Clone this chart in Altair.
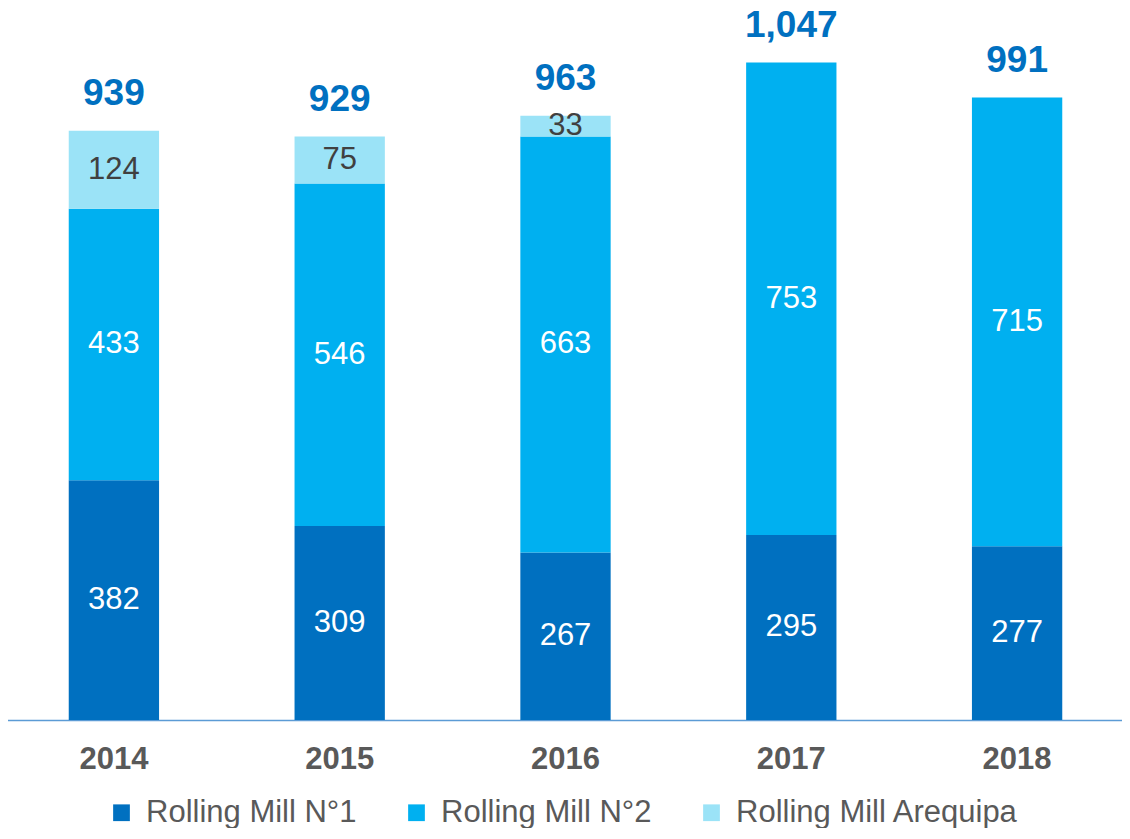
import altair as alt
import pandas as pd

years = ["2014", "2015", "2016", "2017", "2018"]
series = ["Rolling Mill N°1", "Rolling Mill N°2", "Rolling Mill Arequipa"]
mill1 = [382, 309, 267, 295, 277]
mill2 = [433, 546, 663, 753, 715]
arequipa = [124, 75, 33, 0, 0]
totals = [939, 929, 963, 1047, 991]
total_labels = ["939", "929", "963", "1,047", "991"]
colors = ["#0070C0", "#00B0F0", "#9BE3F7"]

rows = []
for i, y in enumerate(years):
    for k, (name, vals) in enumerate(zip(series, [mill1, mill2, arequipa])):
        rows.append({"year": y, "series": name, "value": vals[i], "order": k})
df = pd.DataFrame(rows)
tot = pd.DataFrame({"year": years, "total": totals, "label": total_labels})

FONT = "Liberation Sans"
xscale = alt.Scale(paddingInner=0.6, paddingOuter=0.3, range=[-7, 1122])
x = alt.X("year:N", sort=years, title=None, scale=xscale,
          axis=alt.Axis(labelAngle=0, labelFontSize=31, labelFontWeight="bold",
                        labelColor="#595959", labelFont=FONT, ticks=False,
                        domainColor="#5B9BD5", domainWidth=1.5, labelPadding=24,
                        labelBaseline="top"))
yscale = alt.Scale(domain=[0, 1122], nice=False, zero=True)

base = alt.Chart(df)
bars = base.mark_bar().encode(
    x=x,
    y=alt.Y("value:Q", stack="zero", scale=yscale, axis=None, title=None),
    color=alt.Color("series:N", sort=series,
                    scale=alt.Scale(domain=series, range=colors),
                    legend=alt.Legend(title=None, orient="none", direction="horizontal",
                                      legendX=98, legendY=781, symbolType="square",
                                      symbolSize=280, symbolStrokeWidth=0,
                                      labelFontSize=31, labelColor="#595959",
                                      labelFont=FONT, labelOffset=9, columnPadding=44,
                                      padding=0, labelLimit=400)),
    order=alt.Order("order:Q", sort="ascending"),
)

seg_labels = base.transform_stack(
    stack="value", groupby=["year"], as_=["y0", "y1"],
    sort=[alt.SortField("order", order="ascending")]
).transform_filter(alt.datum.value > 0).transform_calculate(
    mid="(datum.y0 + datum.y1) / 2"
).mark_text(fontSize=31, font=FONT, baseline="middle").encode(
    x=alt.X("year:N", sort=years, scale=xscale),
    y=alt.Y("mid:Q", scale=yscale),
    text=alt.Text("value:Q"),
    color=alt.condition(alt.datum.series == "Rolling Mill Arequipa",
                        alt.value("#404040"), alt.value("white")),
)

tot_labels = alt.Chart(tot).mark_text(
    fontSize=37, font=FONT, fontWeight="bold", color="#0070C0",
    baseline="alphabetic", dy=-26
).encode(
    x=alt.X("year:N", sort=years, scale=xscale),
    y=alt.Y("total:Q", scale=yscale),
    text="label:N",
)

chart = alt.layer(bars, seg_labels, tot_labels).properties(
    width=1114, height=704,
    autosize=alt.AutoSizeParams(type="none"),
    padding={"left": 0, "top": 8, "right": 0, "bottom": 108},
).configure_view(stroke=None).configure_axis(grid=False)

chart.save("out.html", embed_options={"renderer": "svg", "actions": False})
